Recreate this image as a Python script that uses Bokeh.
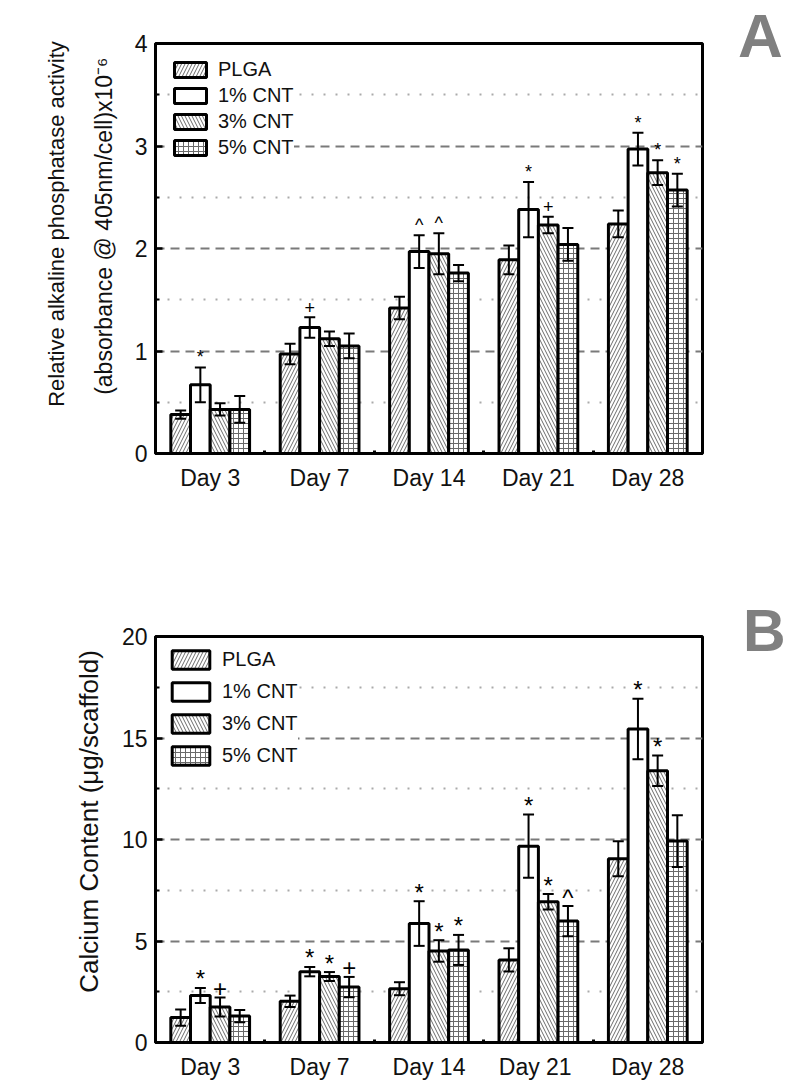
import numpy as np
from bokeh.plotting import figure
from bokeh.models import ColumnDataSource, Range1d, FixedTicker, Whisker, TeeHead, LinearAxis, Div
from bokeh.layouts import column, row
from bokeh.embed import file_html
from bokeh.resources import INLINE
from bokeh.core.properties import value

# ---------------- data ----------------
series = ["PLGA", "1% CNT", "3% CNT", "5% CNT"]
days_a = ["Day 3", "Day 7", "Day 14", "Day 21", "Day 28"]
days_b = ["Day 3", "Day 7", "Day 14", "Day  21", "Day 28"]

# Panel A: relative ALP activity
alp_plga = [0.38, 0.97, 1.42, 1.89, 2.24]
alp_cnt1 = [0.67, 1.23, 1.97, 2.38, 2.97]
alp_cnt3 = [0.43, 1.12, 1.95, 2.23, 2.74]
alp_cnt5 = [0.43, 1.05, 1.76, 2.04, 2.57]
alp_err_plga = [0.04, 0.10, 0.11, 0.14, 0.13]
alp_err_cnt1 = [0.17, 0.10, 0.16, 0.27, 0.16]
alp_err_cnt3 = [0.06, 0.07, 0.20, 0.08, 0.12]
alp_err_cnt5 = [0.13, 0.12, 0.08, 0.16, 0.16]
alp_mark_plga = ["", "", "", "", ""]
alp_mark_cnt1 = ["*", "+", "^", "*", "*"]
alp_mark_cnt3 = ["", "", "^", "+", "*"]
alp_mark_cnt5 = ["", "", "", "", "*"]

# Panel B: calcium content
ca_plga = [1.23, 2.03, 2.65, 4.07, 9.05]
ca_cnt1 = [2.32, 3.49, 5.86, 9.67, 15.44]
ca_cnt3 = [1.75, 3.25, 4.51, 6.93, 13.39]
ca_cnt5 = [1.30, 2.73, 4.56, 5.98, 9.92]
ca_err_plga = [0.40, 0.28, 0.32, 0.57, 0.86]
ca_err_cnt1 = [0.37, 0.23, 1.10, 1.56, 1.49]
ca_err_cnt3 = [0.47, 0.22, 0.53, 0.38, 0.75]
ca_err_cnt5 = [0.30, 0.50, 0.74, 0.74, 1.28]
ca_mark_plga = ["", "", "", "", ""]
ca_mark_cnt1 = ["*", "*", "*", "*", "*"]
ca_mark_cnt3 = ["+", "*", "*", "*", "*"]
ca_mark_cnt5 = ["", "+", "*", "^", ""]

alp_ticks = [0, 1, 2, 3, 4]
alp_minor = [0.5, 1.5, 2.5, 3.5]
ca_ticks = [0, 5, 10, 15, 20]
ca_minor = [2.5, 7.5, 12.5, 17.5]

# ---------------- styles ----------------
FONT = "Liberation Sans"
TXT = "#111111"
NB = "\u00a0"
HATCH = [
    dict(hatch_pattern="/", hatch_scale=7),
    dict(hatch_pattern=None),
    dict(hatch_pattern="\\", hatch_scale=7),
    dict(hatch_pattern="+", hatch_scale=5),
]
FRAME_W = 547
BORDER_L = 155
BORDER_R = 20
LETTER_W = 62


def make_panel(days, vals, errs, marks, ticks, minor, frame_h, b_top, b_bottom,
               mark_size, mark_off, leg, ylabel, ylabel_size, ylabel_standoff):
    y_end = ticks[-1]
    p = figure(frame_width=FRAME_W, frame_height=frame_h,
               x_range=Range1d(0.5, 0.5 + len(days)), y_range=Range1d(0, y_end),
               output_backend="svg", toolbar_location=None,
               min_border_left=BORDER_L, min_border_right=BORDER_R,
               min_border_top=b_top, min_border_bottom=b_bottom,
               background_fill_color="white", border_fill_color="white")
    p.outline_line_color = "black"
    p.outline_line_width = 3

    idx = np.arange(1, len(days) + 1)
    bw = 0.18
    for i, (name, v, e, m) in enumerate(zip(series, vals, errs, marks)):
        v = np.array(v, dtype=float)
        e = np.array(e, dtype=float)
        src = ColumnDataSource(dict(x=idx + (i - 1.5) * bw, top=v,
                                    upper=v + e, lower=v - e, mark=m))
        p.vbar(x="x", top="top", bottom=0, width=bw, source=src,
               fill_color="white", line_color="black", line_width=3,
               hatch_color="#6a6a6a", hatch_weight=1, legend_label=name,
               **HATCH[i])
        p.add_layout(Whisker(source=src, base="x", upper="upper", lower="lower",
                             line_color="black", line_width=2, level="annotation",
                             upper_head=TeeHead(size=11, line_width=2, line_color="black"),
                             lower_head=TeeHead(size=11, line_width=2, line_color="black")))
        p.text(x="x", y="upper", text="mark", source=src, text_align="center",
               text_baseline="alphabetic", y_offset=mark_off,
               text_font=value(FONT), text_font_size=mark_size, text_color="black")

    xa = p.xaxis[0]
    xa.ticker = FixedTicker(ticks=[float(t) for t in idx],
                            minor_ticks=[float(t) + 0.5 for t in idx[:-1]])
    xa.major_label_overrides = {float(k): d for k, d in zip(idx, days)}
    xa.major_tick_line_color = None
    xa.minor_tick_in = 3
    xa.minor_tick_out = 0
    xa.minor_tick_line_width = 3
    xa.minor_tick_line_color = "black"
    xa.axis_line_width = 3
    xa.major_label_standoff = 5
    xa.major_label_text_font = FONT
    xa.major_label_text_font_size = "23px"
    xa.major_label_text_color = TXT

    ya = p.yaxis[0]
    ya.ticker = FixedTicker(ticks=ticks, minor_ticks=minor)
    ya.major_tick_in = 7
    ya.major_tick_out = 0
    ya.major_tick_line_width = 2.5
    ya.minor_tick_in = 4
    ya.minor_tick_out = 0
    ya.minor_tick_line_width = 2
    ya.axis_line_width = 3
    ya.major_label_standoff = 8
    ya.major_label_text_font = FONT
    ya.major_label_text_font_size = "23px"
    ya.major_label_text_color = TXT
    ya.axis_label = ylabel
    ya.axis_label_standoff = ylabel_standoff
    ya.axis_label_text_font = FONT
    ya.axis_label_text_font_size = ylabel_size
    ya.axis_label_text_font_style = "normal"
    ya.axis_label_text_color = TXT

    p.xgrid.visible = False
    g = p.ygrid[0]
    g.grid_line_color = "#7a7a7a"
    g.grid_line_width = 2
    g.grid_line_dash = "9 6"
    g.minor_grid_line_color = "#aaaaaa"
    g.minor_grid_line_width = 2
    g.minor_grid_line_dash = "2 10"

    L = p.legend[0]
    L.location = "top_left"
    L.margin = leg["margin"]
    L.padding = leg["padding"]
    L.spacing = leg["spacing"]
    L.glyph_width = leg["gw"]
    L.glyph_height = leg["gh"]
    L.label_height = leg["gh"]
    L.label_standoff = 8
    L.label_text_font = FONT
    L.label_text_font_size = "20px"
    L.label_text_color = TXT
    L.background_fill_color = "white"
    L.background_fill_alpha = 1
    L.border_line_color = None
    return p


def letter_div(letter, size, top, left):
    """Panel letter shown to the right of the chart."""
    html = (f'<div style="font-family:\'Liberation Sans\';font-weight:700;'
            f'font-size:{size}px;line-height:1;color:#808080;'
            f'margin-top:{top}px;margin-left:{left}px;">{letter}</div>')
    return Div(text=html, width=LETTER_W, height=120)


# ---------------- panel A ----------------
HA = 410
TOP_A, BOT_A = 43, 95
pA = make_panel(days_a, [alp_plga, alp_cnt1, alp_cnt3, alp_cnt5],
                [alp_err_plga, alp_err_cnt1, alp_err_cnt3, alp_err_cnt5],
                [alp_mark_plga, alp_mark_cnt1, alp_mark_cnt3, alp_mark_cnt5],
                alp_ticks, alp_minor, HA, TOP_A, BOT_A, "18px", -10,
                dict(margin=15, padding=10, spacing=3, gw=40, gh=19),
                NB * 7 + "(absorbance @ 405nm/cell)x10\u207b\u2076", "23px", 15)
line1 = LinearAxis(ticker=FixedTicker(ticks=[]),
                   axis_label=NB * 8 + "Relative alkaline phosphatase activity",
                   axis_line_color=None, major_tick_line_color=None,
                   minor_tick_line_color=None, major_tick_in=0, major_tick_out=0,
                   minor_tick_in=0, minor_tick_out=0, major_label_standoff=0,
                   axis_label_standoff=19, axis_label_text_font=FONT,
                   axis_label_text_font_size="22px",
                   axis_label_text_font_style="normal", axis_label_text_color=TXT)
pA.add_layout(line1, "left")
lA = letter_div("A", 62, 0, 11)

# ---------------- panel B ----------------
HB = 406
TOP_B, BOT_B = 88, 33
pB = make_panel(days_b, [ca_plga, ca_cnt1, ca_cnt3, ca_cnt5],
                [ca_err_plga, ca_err_cnt1, ca_err_cnt3, ca_err_cnt5],
                [ca_mark_plga, ca_mark_cnt1, ca_mark_cnt3, ca_mark_cnt5],
                ca_ticks, ca_minor, HB, TOP_B, BOT_B, "24px", -9,
                dict(margin=12, padding=10, spacing=9, gw=47, gh=23),
                NB * 5 + "Calcium Content (\u03bcg/scaffold)", "26px", 15)
lB = letter_div("B", 59, 49, 16)

layout = column(row(pA, lA), row(pB, lB))
open("out.html", "w").write(file_html(layout, INLINE))
